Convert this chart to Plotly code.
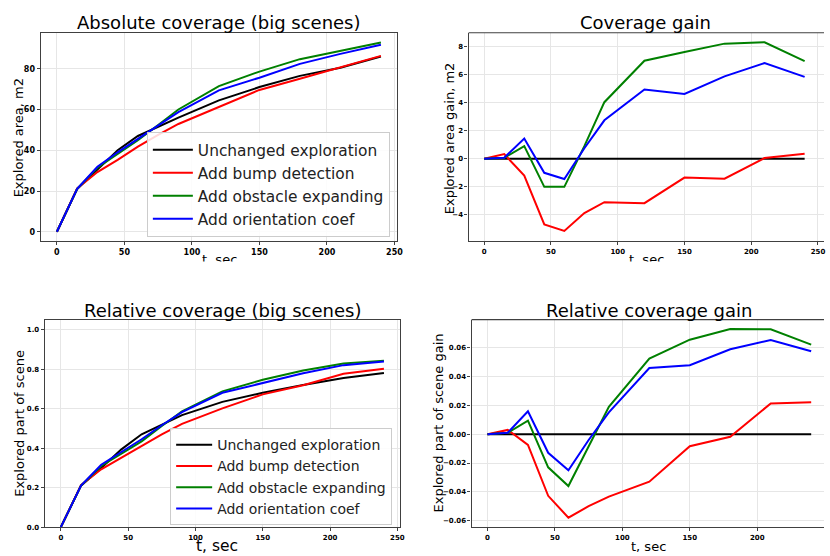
import plotly.graph_objects as go

W, H = 830, 556

t_sec = [0, 15, 30, 45, 60, 75, 90, 120, 150, 180, 210, 240]
series_names = ["Unchanged exploration", "Add bump detection",
                "Add obstacle expanding", "Add orientation coef"]
series_colors = ["black", "red", "green", "blue"]

# Absolute coverage (m2)
abs_unchanged = [0, 21.0, 30.5, 40.0, 47.0, 51.5, 56.0, 64.5, 71.0, 76.5, 80.5, 86.0]
abs_bump = [0, 21.3, 29.3, 35.3, 41.8, 47.6, 52.9, 61.3, 69.6, 75.1, 80.6, 86.3]
abs_obstacle = [0, 21.1, 31.4, 38.0, 45.0, 52.4, 60.0, 71.5, 78.6, 84.7, 88.8, 92.9]
abs_orient = [0, 21.1, 31.9, 39.0, 45.6, 52.3, 58.7, 69.4, 75.6, 82.4, 87.3, 91.8]

# Coverage gain (m2)
gain_unchanged = [0, 0, 0, 0, 0, 0, 0, 0, 0, 0, 0, 0]
gain_bump = [0, 0.33, -1.2, -4.67, -5.14, -3.87, -3.09, -3.16, -1.34, -1.42, 0.05, 0.35]
gain_obstacle = [0, 0.07, 0.9, -2.0, -2.0, 0.9, 4.03, 6.98, 7.6, 8.2, 8.3, 6.96]
gain_orient = [0, 0.07, 1.44, -1.0, -1.44, 0.75, 2.74, 4.93, 4.62, 5.87, 6.82, 5.83]

# Relative coverage (part of scene)
rel_unchanged = [0, 0.21, 0.30, 0.394, 0.47, 0.52, 0.567, 0.634, 0.68, 0.72, 0.755, 0.78]
rel_bump = [0, 0.213, 0.293, 0.351, 0.412, 0.47, 0.523, 0.601, 0.672, 0.718, 0.776, 0.802]
rel_obstacle = [0, 0.211, 0.31, 0.371, 0.434, 0.512, 0.586, 0.687, 0.746, 0.793, 0.828, 0.842]
rel_orient = [0, 0.211, 0.316, 0.381, 0.445, 0.516, 0.582, 0.68, 0.728, 0.779, 0.82, 0.838]

# Relative coverage gain
rgain_unchanged = [0, 0, 0, 0, 0, 0, 0, 0, 0, 0, 0, 0]
rgain_bump = [0, 0.003, -0.0074, -0.0428, -0.058, -0.05, -0.0434, -0.033, -0.0083, -0.0018, 0.0214, 0.0223]
rgain_obstacle = [0, 0.001, 0.0094, -0.023, -0.036, -0.008, 0.019, 0.0526, 0.0657, 0.0731, 0.0729, 0.0623]
rgain_orient = [0, 0.001, 0.0159, -0.0129, -0.025, -0.004, 0.0152, 0.046, 0.048, 0.059, 0.0655, 0.0577]

titles = ["Absolute coverage (big scenes)", "Coverage gain",
          "Relative coverage (big scenes)", "Relative coverage gain"]
ylabels = ["Explored area, m2", "Explored area gain, m2",
           "Explored part of scene", "Explored part of scene gain"]
xlabel = "t, sec"

panels = [
    [abs_unchanged, abs_bump, abs_obstacle, abs_orient],
    [gain_unchanged, gain_bump, gain_obstacle, gain_orient],
    [rel_unchanged, rel_bump, rel_obstacle, rel_orient],
    [rgain_unchanged, rgain_bump, rgain_obstacle, rgain_orient],
]

# pixel boxes (left, top, right, bottom)
boxes = [(41, 33, 400, 243), (472, 33, 830, 243), (45, 322, 403, 531), (475, 322, 830, 531)]
xranges = [[-12, 252], [-11.7, 254.5], [-12, 252], [-11.8, 249.5]]
yranges = [[-4.65, 97.65], [-5.875, 8.975], [0, 1.05], [-0.0646, 0.0796]]
ydticks = [20, 2, 0.2, 0.02]
ytickfmt = ["d", "d", ".1f", ".2f"]
tickfs = [8, 7, 7, 7]
legend_ids = ["legend", None, "legend2", None]


def px(x):
    return x / W


def py(y):
    return 1 - y / H


fig = go.Figure()

for p, data in enumerate(panels):
    ax = "" if p == 0 else str(p + 1)
    for s, vals in enumerate(data):
        fig.add_trace(go.Scatter(
            x=t_sec, y=vals, mode="lines", name=series_names[s],
            line=dict(color=series_colors[s], width=2),
            xaxis="x" + ax, yaxis="y" + ax,
            showlegend=legend_ids[p] is not None,
            legend=legend_ids[p] if legend_ids[p] else "legend",
        ))

layout = dict(width=W, height=H, margin=dict(l=0, r=0, t=0, b=0),
              paper_bgcolor="white", plot_bgcolor="white",
              font=dict(family="DejaVu Sans", color="black"))
shapes = []
annotations = []
for p in range(4):
    l, t, r, b = boxes[p]
    ax = "" if p == 0 else str(p + 1)
    full = p in (0, 2)
    layout["xaxis" + ax] = dict(
        domain=[px(l), px(r)], range=xranges[p], anchor="y" + ax,
        tick0=0, dtick=50, showgrid=True, gridcolor="#e6e6e6", gridwidth=1,
        zeroline=False, showline=True, linecolor="#404040", linewidth=1.2,
        mirror=full, ticks="outside", ticklen=3, tickcolor="#404040",
        tickfont=dict(size=tickfs[p], family="DejaVu Sans", weight="bold"),
    )
    layout["yaxis" + ax] = dict(
        domain=[py(b), py(t)], range=yranges[p], anchor="x" + ax,
        tick0=0, dtick=ydticks[p], tickformat=ytickfmt[p],
        showgrid=True, gridcolor="#e6e6e6", gridwidth=1,
        zeroline=False, showline=True, linecolor="#404040", linewidth=1.2,
        mirror=full, ticks="outside", ticklen=3, tickcolor="#404040",
        tickfont=dict(size=tickfs[p], family="DejaVu Sans", weight="bold"),
    )
    if not full:
        shapes.append(dict(type="line", xref="x" + ax + " domain", yref="y" + ax + " domain",
                           x0=0, x1=1, y0=1, y1=1, line=dict(color="#404040", width=1.2)))

# titles
title_pos = [(220.5, 23), (650.5, 23), (224, 312.8), (653.3, 312.8)]
for p in range(4):
    x, y = title_pos[p]
    annotations.append(dict(text=titles[p], x=px(x), y=py(y), xref="paper", yref="paper",
                            xanchor="center", yanchor="middle", showarrow=False,
                            font=dict(size=18, color="black")))
# y labels
ylab_pos = [(19, 138.5), (452.5, 139), (20, 426), (441.7, 426)]
for p in range(4):
    x, y = ylab_pos[p]
    annotations.append(dict(text=ylabels[p], x=px(x), y=py(y), xref="paper", yref="paper",
                            xanchor="center", yanchor="middle", showarrow=False, textangle=-90,
                            font=dict(size=13, color="black")))
# x labels
xlab_pos = [(220.8, 261.5, 13), (650.8, 261.5, 13), (218.5, 550, 15.5), (653, 550, 13)]
for (x, y, fs) in xlab_pos:
    annotations.append(dict(text=xlabel, x=px(x), y=py(y), xref="paper", yref="paper",
                            xanchor="center", yanchor="middle", showarrow=False,
                            font=dict(size=fs, color="black")))
# white strip: top-row image is cropped just below the x-label tops
for x in (220.8, 650.8):
    annotations.append(dict(text=" ", x=px(x), y=py(263), xref="paper", yref="paper",
                            xanchor="center", yanchor="top", showarrow=False,
                            width=90, height=14, bgcolor="white", borderpad=0,
                            font=dict(size=8)))

layout["shapes"] = shapes
layout["annotations"] = annotations
layout["legend"] = dict(x=px(392.7), y=py(239), xanchor="right", yanchor="bottom",
                        bgcolor="rgba(255,255,255,0.85)", bordercolor="#cccccc", borderwidth=1,
                        font=dict(size=15.4, color="#222222"), itemwidth=40)
layout["legend2"] = dict(x=px(395), y=py(529), xanchor="right", yanchor="bottom",
                         bgcolor="rgba(255,255,255,0.85)", bordercolor="#cccccc", borderwidth=1,
                         font=dict(size=14, color="#222222"), itemwidth=36)
fig.update_layout(**layout)

fig.write_html("out.html", config={"displayModeBar": False},
               post_script="document.body.style.margin='0';document.body.style.overflow='hidden';")
